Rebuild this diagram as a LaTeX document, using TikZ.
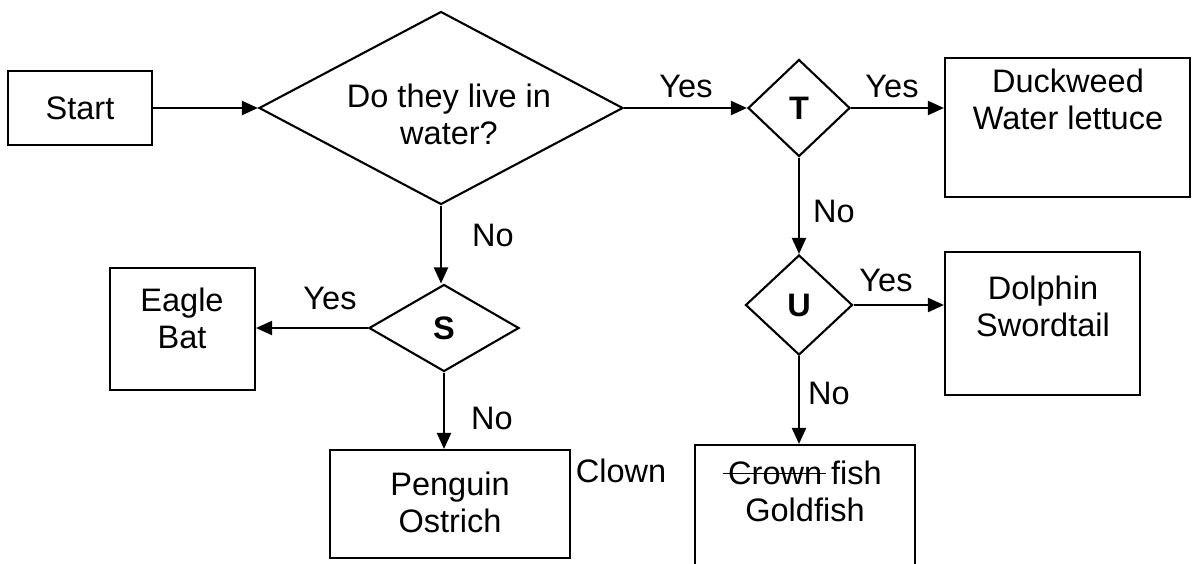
\documentclass[tikz,border=0pt]{standalone}
\usepackage{fontspec}
\setmainfont{Liberation Sans}
\usetikzlibrary{shapes.geometric,arrows.meta}

% crossed-out word
\newcommand{\crossout}[1]{\sbox0{#1}\rlap{\kern-3pt\rule[0.3em]{\dimexpr\wd0+5pt\relax}{0.9pt}}\usebox0}

\begin{document}
\begin{tikzpicture}[
    x = 0.2mm,
    y = -0.2mm,
    box/.style = {
        draw,
        line width = 1.2pt,
        inner sep = 0pt
    },
    decision/.style = {
        diamond,
        draw,
        line width = 1.2pt,
        inner sep = 0pt,
        font = \fontsize{18.5}{21}\selectfont,
        align = center
    },
    txt/.style = {font = \fontsize{18.5}{21}\selectfont, align = center},
    answer/.style = {font = \fontsize{18.5}{21}\selectfont},
    arrow/.style = {-{Triangle[length = 3.2mm, width = 2.8mm]}, line width = 1.2pt}
]

\clip (0, 0) rectangle (1195, 563);

% Start and first question
\node[box, txt, minimum width = 28.8mm, minimum height = 14.8mm] (start) at (80, 108) {Start};
\node[decision, shape aspect = 1.9, minimum width = 72.8mm, minimum height = 38.6mm] (water) at (441, 108) {};
\node[txt] (watertxt) at (449, 114) {Do they live in\\water?};

% Questions
\node[decision, minimum width = 20.4mm, minimum height = 19.4mm] (qt) at (799, 108) {\bfseries T};
\node[decision, minimum width = 21.4mm, minimum height = 20mm] (qu) at (799, 305) {\bfseries U};
\node[decision, minimum width = 30mm, minimum height = 17.4mm] (qs) at (444, 328) {\bfseries S};

% Answer boxes
\node[box, minimum width = 49mm, minimum height = 27.8mm] (duck) at (1067.5, 127.5) {};
\node[txt] (ducktxt) at (1068, 99) {Duckweed\\Water lettuce};
\node[box, minimum width = 39mm, minimum height = 28.6mm] (dolphin) at (1042.5, 323.5) {};
\node[txt] (dolphintxt) at (1043, 306) {Dolphin\\Swordtail};
\node[box, minimum width = 44mm, minimum height = 26mm] (fish) at (805, 510) {};
\node[txt] (fishtxt) at (805, 491) {\crossout{Crown} fish\\Goldfish};
\node[box, minimum width = 29mm, minimum height = 24.4mm] (eagle) at (182.5, 329) {};
\node[txt] (eagletxt) at (182, 318) {Eagle\\Bat};
\node[box, minimum width = 48mm, minimum height = 21.6mm] (penguin) at (450, 504) {};
\node[txt] (penguintxt) at (450, 502) {Penguin\\Ostrich};

% Handwritten correction
\node[answer] (clown) at (621, 471) {Clown};

% Connectors
\draw[arrow] (start.east) -- (water.west);
\draw[arrow] (water.east) -- (qt.west);
\draw[arrow] (qt.east) -- (qt.east -| duck.west);
\draw[arrow] (qt.south) -- (qu.north);
\draw[arrow] (qu.east) -- (qu.east -| dolphin.west);
\draw[arrow] (qu.south) -- (qu.south |- fish.north);
\draw[arrow] (water.south) -- (water.south |- qs.north);
\draw[arrow] (qs.west) -- (qs.west -| eagle.east);
\draw[arrow] (qs.south) -- (qs.south |- penguin.north);

% Yes / No labels
\node[answer] (yes1) at (686, 86) {Yes};
\node[answer] (yes2) at (892, 86) {Yes};
\node[answer] (no1) at (834, 211) {No};
\node[answer] (yes3) at (886, 280) {Yes};
\node[answer] (no2) at (829, 393) {No};
\node[answer] (no3) at (493, 235) {No};
\node[answer] (yes4) at (330, 298) {Yes};
\node[answer] (no4) at (492, 418) {No};

\end{tikzpicture}
\end{document}
